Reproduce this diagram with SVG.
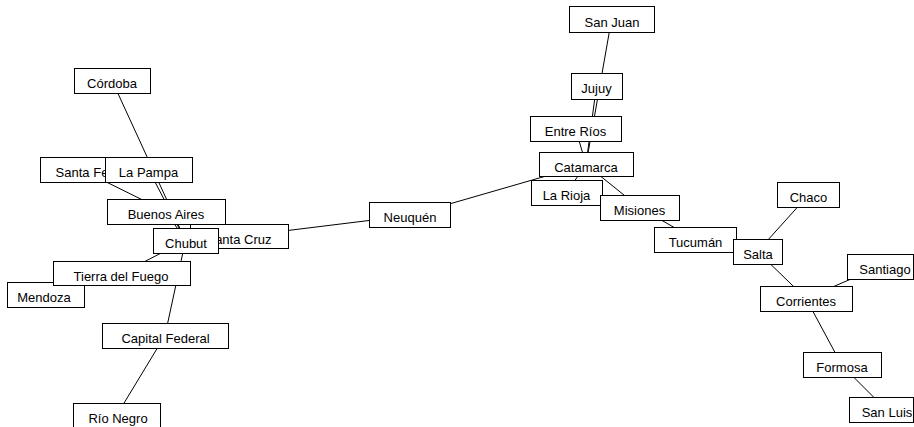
<svg xmlns="http://www.w3.org/2000/svg" width="914" height="427" viewBox="0 0 914 427">
<style>
.e line{stroke:#000;stroke-width:1}
.n rect{fill:#fff;stroke:#000;stroke-width:1}
.n text{font-family:"Liberation Sans",Arial,sans-serif;font-size:13px;fill:#000;text-anchor:middle}
</style>
<rect width="914" height="427" fill="#fff"/>
<g id="connectors" class="e">
<line x1="112" y1="80.5" x2="185.5" y2="240.5"/>
<line x1="148.5" y1="169.5" x2="185.5" y2="240.5"/>
<line x1="81" y1="169.5" x2="166" y2="211.5"/>
<line x1="166" y1="211.5" x2="185.5" y2="240.5"/>
<line x1="239" y1="236.5" x2="185.5" y2="240.5"/>
<line x1="239" y1="236.5" x2="409.5" y2="215.5"/>
<line x1="185.5" y1="240.5" x2="121.5" y2="273.5"/>
<line x1="185.5" y1="240.5" x2="165" y2="335.5"/>
<line x1="165" y1="335.5" x2="116.5" y2="415.5"/>
<line x1="45.5" y1="294.5" x2="121.5" y2="273.5"/>
<line x1="409.5" y1="215.5" x2="586" y2="164.5"/>
<line x1="611.5" y1="19.5" x2="586" y2="164.5"/>
<line x1="596.5" y1="85.5" x2="586" y2="164.5"/>
<line x1="575.5" y1="128.5" x2="586" y2="164.5"/>
<line x1="566.5" y1="192.5" x2="586" y2="164.5"/>
<line x1="639.5" y1="207.5" x2="586" y2="164.5"/>
<line x1="639.5" y1="207.5" x2="695" y2="239.5"/>
<line x1="695" y1="239.5" x2="757.5" y2="251.5"/>
<line x1="757.5" y1="251.5" x2="808" y2="195.5"/>
<line x1="757.5" y1="251.5" x2="806" y2="298.5"/>
<line x1="806" y1="298.5" x2="880" y2="266.5"/>
<line x1="806" y1="298.5" x2="842" y2="365.5"/>
<line x1="842" y1="365.5" x2="887" y2="410.5"/>
</g>
<g id="cordoba" class="n"><rect x="74.5" y="68.5" width="76" height="25"/><text x="112" y="88">Córdoba</text></g>
<g id="santa-fe" class="n"><rect x="40.5" y="157.5" width="82" height="25"/><text x="82" y="177">Santa Fe</text></g>
<g id="la-pampa" class="n"><rect x="105.5" y="157.5" width="87" height="25"/><text x="148.5" y="177">La Pampa</text></g>
<g id="buenos-aires" class="n"><rect x="107.5" y="199.5" width="118" height="25"/><text x="166" y="219">Buenos Aires</text></g>
<g id="santa-cruz" class="n"><rect x="190.5" y="224.5" width="98" height="24"/><text x="239" y="243.5">Santa Cruz</text></g>
<g id="chubut" class="n"><rect x="153.5" y="228.5" width="65" height="25"/><text x="186" y="248">Chubut</text></g>
<g id="mendoza" class="n"><rect x="7.5" y="282.5" width="77" height="25"/><text x="44" y="302">Mendoza</text></g>
<g id="tierra-del-fuego" class="n"><rect x="53.5" y="261.5" width="137" height="24"/><text x="121" y="280.5">Tierra del Fuego</text></g>
<g id="capital-federal" class="n"><rect x="102.5" y="323.5" width="126" height="25"/><text x="165.5" y="343">Capital Federal</text></g>
<g id="rio-negro" class="n"><rect x="73.5" y="403.5" width="87" height="30"/><text x="118" y="423">Río Negro</text></g>
<g id="neuquen" class="n"><rect x="369.5" y="202.5" width="81" height="25"/><text x="410" y="222">Neuquén</text></g>
<g id="san-juan" class="n"><rect x="569.5" y="6.5" width="85" height="26"/><text x="612" y="26.5">San Juan</text></g>
<g id="jujuy" class="n"><rect x="571.5" y="73.5" width="51" height="26"/><text x="596.5" y="93">Jujuy</text></g>
<g id="entre-rios" class="n"><rect x="530.5" y="116.5" width="91" height="25"/><text x="575.5" y="136">Entre Ríos</text></g>
<g id="catamarca" class="n"><rect x="539.5" y="152.5" width="94" height="24"/><text x="586" y="171.5">Catamarca</text></g>
<g id="la-rioja" class="n"><rect x="531.5" y="180.5" width="71" height="25"/><text x="566.5" y="200">La Rioja</text></g>
<g id="misiones" class="n"><rect x="600.5" y="195.5" width="79" height="25"/><text x="639.5" y="215">Misiones</text></g>
<g id="tucuman" class="n"><rect x="654.5" y="227.5" width="82" height="25"/><text x="695.5" y="247">Tucumán</text></g>
<g id="salta" class="n"><rect x="733.5" y="239.5" width="49" height="25"/><text x="758" y="259">Salta</text></g>
<g id="chaco" class="n"><rect x="777.5" y="182.5" width="62" height="25"/><text x="808.5" y="202">Chaco</text></g>
<g id="santiago" class="n"><rect x="847.5" y="254.5" width="66" height="25"/><text x="885" y="274">Santiago</text></g>
<g id="corrientes" class="n"><rect x="760.5" y="286.5" width="92" height="25"/><text x="806" y="306">Corrientes</text></g>
<g id="formosa" class="n"><rect x="803.5" y="352.5" width="78" height="25"/><text x="842" y="372">Formosa</text></g>
<g id="san-luis" class="n"><rect x="849.5" y="397.5" width="64" height="25"/><text x="887" y="417">San Luis</text></g>
</svg>
